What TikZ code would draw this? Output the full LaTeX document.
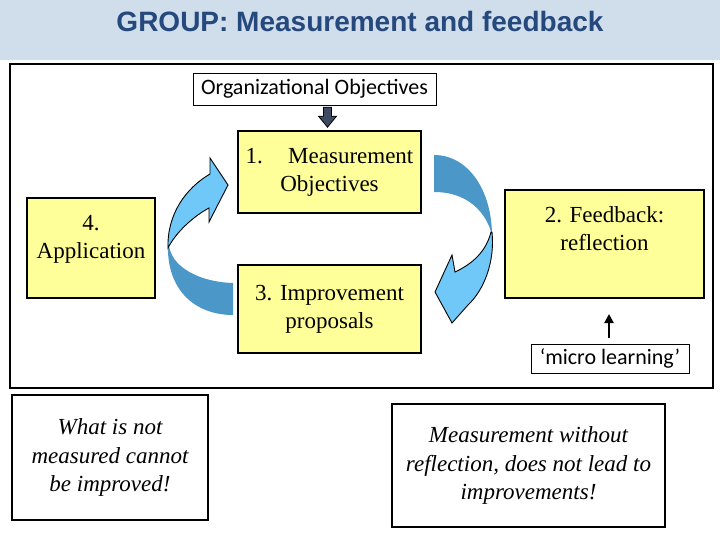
\documentclass[tikz,border=0pt]{standalone}
\usepackage{fontspec}
\setmainfont{Liberation Serif}
\setsansfont{Liberation Sans}
\newfontfamily\calibri{Carlito}
\usetikzlibrary{positioning,arrows.meta}
\definecolor{bandblue}{RGB}{208,222,236}
\definecolor{titleblue}{RGB}{37,72,125}
\definecolor{boxyellow}{RGB}{255,255,153}
\definecolor{darkarc}{RGB}{75,152,200}
\definecolor{lightarc}{RGB}{112,200,248}
\definecolor{slate}{RGB}{62,74,98}
\tikzset{
	ybox/.style = {rectangle, draw, line width=1.6pt, fill=boxyellow, align=center, inner sep=0pt, font=\fontsize{23}{28}\selectfont}, % yellow step boxes
	btext/.style = {align=center, inner sep=0pt, font=\fontsize{23}{28}\selectfont},
	sbox/.style = {rectangle, draw, line width=0.9pt, inner sep=0pt, font=\calibri\fontsize{22}{26}\selectfont},
	note/.style = {rectangle, draw, line width=1.4pt, align=center, inner sep=0pt, font=\itshape\fontsize{23}{28.5}\selectfont}
}
\begin{document}
\begin{tikzpicture}[x=1pt,y=-1pt]
	\useasboundingbox (0,0) rectangle (720,540);
	% header
	\fill[bandblue] (0,0) rectangle (720,60);
	\node[font=\sffamily\bfseries\fontsize{28}{32}\selectfont, text=titleblue] (title) at (360,21) {GROUP: Measurement and feedback};
	\draw[line width=2.4pt] (10,64) rectangle (713,388);
	% boxes
	\node[sbox, minimum width=243, minimum height=32] (org) at (314.5,89) {Organizational Objectives};
	\node[ybox, minimum width=183, minimum height=82] (meas) at (329.5,172) {1.\hspace{1.1em}Measurement\\Objectives};
	\node[ybox, minimum width=183, minimum height=88] (impr) at (329.5,309) {3. Improvement\\proposals};
	\node[ybox, minimum width=199, minimum height=108] (feed) at (604.5,244) {};
	\node[btext, below=17pt of feed.north] (feedtxt) {2. Feedback:\\reflection};
	\node[ybox, minimum width=128, minimum height=100] (app) at (91,248) {};
	\node[btext, below=18pt of app.north] (apptxt) {4.\\Application};
	\node[sbox, minimum width=158, minimum height=29] (ml) at (610,358.5) {‘micro learning’};
	\node[note, minimum width=196, minimum height=125] (note1) at (110,457.5) {What is not\\measured cannot\\be improved!};
	\node[note, minimum width=273, minimum height=123] (note2) at (528.5,465.5) {Measurement without\\reflection, does not lead to\\improvements!};
	% arrows
	\coordinate (otip) at ([xshift=-2pt,yshift=3pt]meas.north);
	\draw[fill=slate, line width=0.8pt] (otip) -- ++(9,-11) -- ++(-5,0) -- ++(0,-9) -- ++(-8,0) -- ++(0,9) -- ++(-5,0) -- cycle;
	\coordinate (mltip) at (609,314);
	\draw[line width=2pt, -{Triangle[length=9pt,width=9pt]}] ([xshift=-1pt,yshift=6pt]ml.north) -- (mltip);
	% right curved arrow
	\fill[darkarc] (434,155) .. controls (468,155) and (492,190) .. (492,236) .. controls (489,220) and (474,192) .. (434,192) -- cycle;
	\draw[fill=lightarc, line width=0.9pt] (492,232) .. controls (495,262) and (484,290) .. (468,305) -- (452,323) -- (435,292) -- (452,255) -- (455,272) .. controls (472,264) and (486,252) .. (491,232) -- cycle;
	% left curved arrow
	\fill[darkarc] (168,243) .. controls (166,290) and (195,315) .. (233,315) -- (233,283) .. controls (200,282) and (175,268) .. (170,250) -- cycle;
	\draw[fill=lightarc, line width=0.9pt] (228,185) -- (210,158) -- (210,174) .. controls (186,188) and (167,214) .. (168,248) .. controls (176,232) and (194,216) .. (209,208) -- (209,222) -- cycle;
\end{tikzpicture}
\end{document}
